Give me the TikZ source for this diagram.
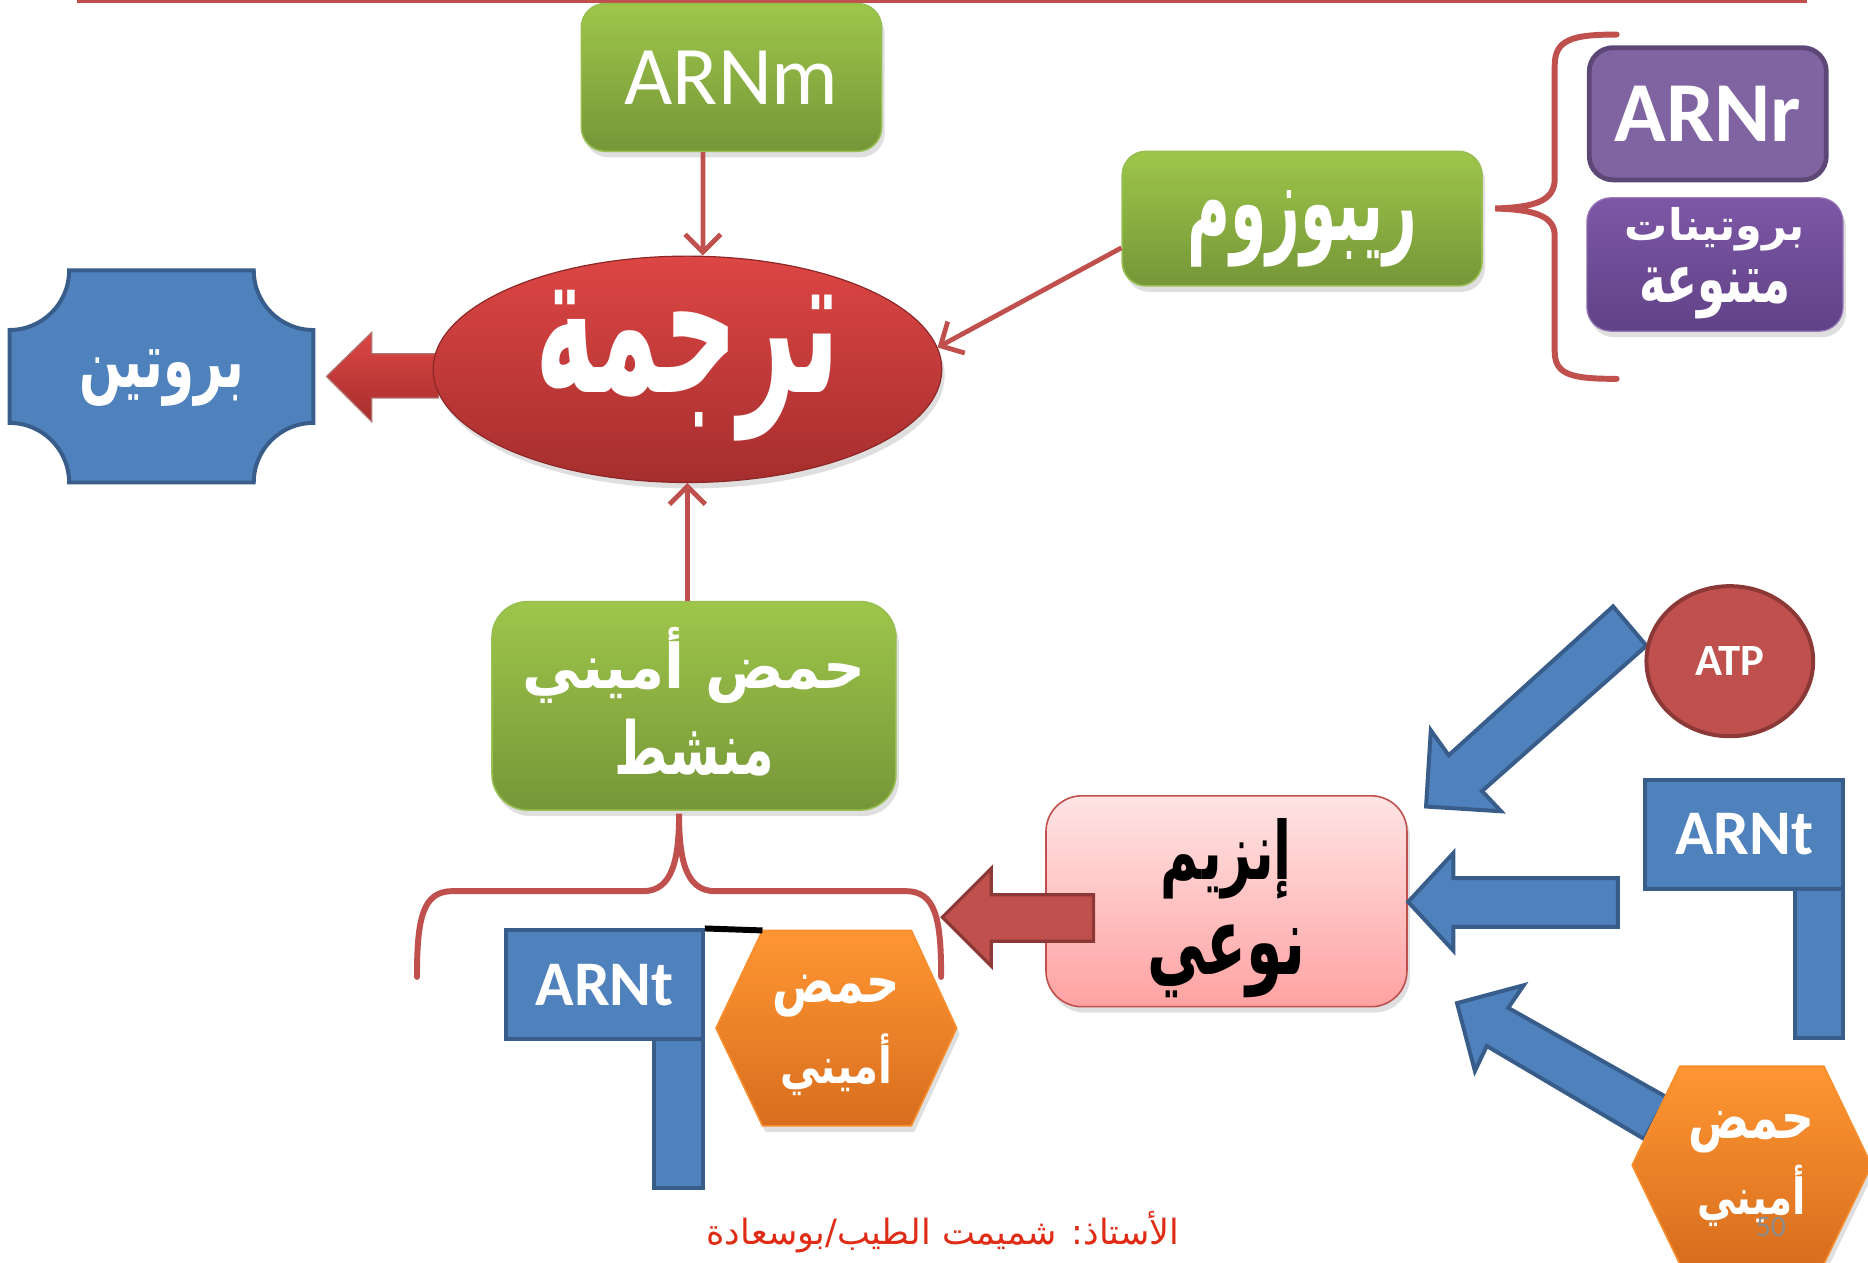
\documentclass[tikz,border=0pt]{standalone}
\usepackage{fontspec}
\usepackage{graphicx}
\usetikzlibrary{shapes.geometric,arrows.meta,calc,shadows}
\setmainfont{Carlito}
\newfontfamily\arabicfont[Script=Arabic]{DejaVu Sans}
\TeXXeTstate=1
\newcommand{\arw}[3]{\resizebox*{#1}{#2}{\arabicfont\bfseries #3}}
\definecolor{redline}{RGB}{192,80,77}
\definecolor{greentop}{RGB}{158,198,74}
\definecolor{greenbot}{RGB}{118,150,56}
\definecolor{greenborder}{RGB}{150,190,80}
\definecolor{ellTop}{RGB}{220,70,68}
\definecolor{ellBot}{RGB}{166,46,46}
\definecolor{bluefill}{RGB}{79,129,189}
\definecolor{blueborder}{RGB}{56,93,138}
\definecolor{purpleA}{RGB}{128,100,162}
\definecolor{purpleAborder}{RGB}{93,71,118}
\definecolor{purpleTop}{RGB}{125,87,166}
\definecolor{purpleBot}{RGB}{96,66,134}
\definecolor{orangeTop}{RGB}{255,150,50}
\definecolor{orangeBot}{RGB}{216,110,30}
\definecolor{pinkTop}{RGB}{255,228,228}
\definecolor{pinkBot}{RGB}{255,162,162}
\definecolor{darkred}{RGB}{140,56,54}
\definecolor{footred}{RGB}{222,44,22}
\definecolor{pagegray}{RGB}{140,140,140}
\tikzset{
  softshadow/.style={drop shadow={opacity=0.25, shadow xshift=1.5pt, shadow yshift=-3pt}},
  greenbox/.style={rectangle, rounded corners=12pt, top color=greentop, bottom color=greenbot,
     draw=greenborder, line width=0.8pt, text=white, align=center, inner sep=0pt, softshadow},
  thinarrow/.style={draw=redline, line width=2.4pt, -{Straight Barb[length=9pt,width=18pt]}},
  bracepath/.style={draw=redline, line width=3pt, line cap=round},
  blockblue/.style={fill=bluefill, draw=blueborder, line width=2pt, line join=miter},
  arntbox/.style={rectangle, fill=bluefill, draw=blueborder, line width=2pt, inner sep=0pt,
     text=white, font=\bfseries\fontsize{32}{38}\selectfont},
  hexpath/.style={top color=orangeTop, bottom color=orangeBot, draw=orangeTop!80!orangeBot, line width=0.8pt, softshadow},
  whitelbl/.style={text=white, align=center, inner sep=0pt},
}
\begin{document}
\begin{tikzpicture}[x=0.6pt, y=-0.6pt]
\clip (0,0) rectangle (1568,1060);
\fill[white] (0,0) rectangle (1568,1060);

% top line
\draw[redline, line width=2pt] (65,1) -- (1517,1);

% ARNm
\node[greenbox, minimum width=151.2pt, minimum height=74.4pt] (arnm) at (614,65)
  {\fontsize{42}{50}\selectfont ARNm};

% block arrow tarjama -> protein (behind ellipse)
\draw[top color=ellTop, bottom color=ellBot, draw=darkred!70, line width=0.6pt]
  (368,297) -- (312,297) -- (312,279) -- (274,316) -- (312,354) -- (312,334) -- (368,334) -- cycle;

% tarjama ellipse
\node[ellipse, draw=ellBot!85!black, line width=0.6pt, top color=ellTop, bottom color=ellBot,
  minimum width=256.2pt, minimum height=114pt, inner sep=0pt, softshadow] (tarj) at (577,310) {};
\node[whitelbl] (tarjlbl) at (577,307) {\arw{153pt}{76pt}{\beginR ترجمة\endR}};

% protein plaque
\draw[draw=blueborder, fill=bluefill, line width=2pt]
  (58,227) -- (213,227) arc[start angle=180,end angle=90,radius=50]
  -- (263,355) arc[start angle=-90,end angle=-180,radius=50]
  -- (58,405) arc[start angle=0,end angle=-90,radius=50]
  -- (8,277) arc[start angle=90,end angle=0,radius=50] -- cycle;
\node[whitelbl] (prot) at (135.5,317.6) {\arw{83pt}{28.6pt}{\beginR بروتين\endR}};

% ribosome
\node[greenbox, minimum width=181.2pt, minimum height=67.8pt] (ribo) at (1093,183.5) {};
\node[whitelbl] (ribolbl) at (1093,191.7) {\arw{115.6pt}{38.6pt}{\beginR ريبوزوم\endR}};

% thin arrows
\draw[thinarrow] ([xshift=-14.4pt]arnm.south) -- ([xshift=7.8pt]tarj.north);
\draw[thinarrow] ([yshift=-14.7pt]ribo.west) -- (tarj.5);

% right brace
\draw[bracepath] (1357,29) .. controls (1320,29) and (1305,33) .. (1305,55) -- (1305,150)
  .. controls (1305,168) and (1290,174) .. (1255,175)
  .. controls (1290,176) and (1305,182) .. (1305,198) -- (1305,295)
  .. controls (1305,315) and (1320,318) .. (1357,318);

% ARNr
\node[rectangle, draw=purpleAborder, line width=2.4pt, fill=purpleA, rounded corners=12pt,
  minimum width=119.4pt, minimum height=66.6pt, inner sep=0pt, text=white,
  font=\bfseries\fontsize{43}{50}\selectfont] (arnr) at (1433.5,95.5) {ARNr};

% proteins
\node[rectangle, rounded corners=12pt, top color=purpleTop, bottom color=purpleBot,
  draw=purpleTop!80!white, line width=0.6pt, minimum width=129pt, minimum height=67.2pt,
  inner sep=0pt, softshadow] (prots) at (1439.5,222) {};
\node[whitelbl] (protslbl) at (1439.5,221)
  {\arw{90.7pt}{22pt}{\beginR بروتينات\endR}\\[7pt]\arw{76.4pt}{26pt}{\beginR متنوعة\endR}};

% activated amino acid
\node[greenbox, rounded corners=18pt, minimum width=203.4pt, minimum height=105pt] (aaact) at (582.5,592.5) {};
\node[whitelbl] (aaactlbl) at (582.5,588.8)
  {\arw{173pt}{38.4pt}{\beginR حمض أميني\endR}\\[7pt]\arw{80.4pt}{28.8pt}{\beginR منشط\endR}};
\draw[thinarrow] (aaact.north -| tarj.south) -- (tarj.south);

% lower brace
\draw[bracepath] (350,820) .. controls (350,770) and (355,748) .. (380,748) -- (540,748)
  .. controls (565,748) and (570,720) .. (570,683)
  .. controls (570,720) and (575,748) .. (600,748) -- (760,748)
  .. controls (785,748) and (790,770) .. (790,820);

% ARNt left
\draw[arntbox] (549,872) rectangle (590,997);
\node[arntbox, minimum width=99pt, minimum height=54.6pt] (arnt1) at (507.5,826.5) {ARNt};

% hexagon left
\draw[hexpath] (601,863) -- (640,781) -- (765,781) -- (803,863) -- (765,945) -- (640,945) -- cycle;
\node[whitelbl] (hex1) at (702,869)
  {\arw{64pt}{21.2pt}{\beginR حمض\endR}\\[7.4pt]\arw{56.5pt}{31.2pt}{\beginR أميني\endR}};
\draw[black, line width=3pt] (arnt1.north east) -- (640,781);

% enzyme
\node[rectangle, rounded corners=18pt, top color=pinkTop, bottom color=pinkBot, draw=redline,
  line width=0.8pt, minimum width=181.8pt, minimum height=106.2pt, inner sep=0pt, softshadow] (enz) at (1029.5,756.5) {};
\node[inner sep=0pt, align=center, text=black] (enzlbl) at (1029.5,762.5)
  {\arw{66pt}{40.6pt}{\beginR إنزيم\endR}\\[12pt]\arw{79.6pt}{36.8pt}{\beginR نوعي\endR}};

% red block arrow enzyme -> left
\draw[fill=redline, draw=darkred, line width=1.6pt, line join=miter]
  (918,751) -- (832,751) -- (832,729) -- (791,770) -- (832,811) -- (832,790) -- (918,790) -- cycle;

% blue block arrows
\draw[blockblue] (1354,509) -- (1216,634) -- (1201,613) -- (1197,677) -- (1260,681) -- (1244,664) -- (1382,542) -- cycle;
\draw[blockblue] (1358,737) -- (1220,737) -- (1220,716) -- (1182,757) -- (1220,798) -- (1220,778) -- (1358,778) -- cycle;
\draw[blockblue] (1399,921) -- (1266,846) -- (1279,827) -- (1223,842) -- (1238,899) -- (1248,878) -- (1380,956) -- cycle;

% ATP
\node[ellipse, draw=darkred, line width=2pt, fill=redline, minimum width=84pt, minimum height=75.6pt,
  inner sep=0pt, text=white, font=\bfseries\fontsize{22.5}{27}\selectfont] (atp) at (1452,555) {ATP};

% ARNt right
\draw[arntbox] (1507,746) rectangle (1547,871);
\node[arntbox, minimum width=99.6pt, minimum height=54.6pt] (arnt2) at (1464,700.5) {ARNt};

% hexagon right
\draw[hexpath] (1370,978) -- (1410,895) -- (1531,895) -- (1571,978) -- (1531,1061) -- (1410,1061) -- cycle;
\node[whitelbl] (hex2) at (1470,981.5)
  {\arw{63pt}{21pt}{\beginR حمض\endR}\\[5pt]\arw{54.6pt}{31pt}{\beginR أميني\endR}};

% page number
\node[text=pagegray, font=\fontsize{15}{18}\selectfont, inner sep=0pt] (pnum) at (1486.5,1030) {50};

% footer
\node[text=footred, inner sep=0pt] (foot) at (791.5,1034.5)
  {\resizebox*{238pt}{21pt}{\arabicfont\beginR الأستاذ: شميمت الطيب/بوسعادة\endR}};
\end{tikzpicture}
\end{document}
